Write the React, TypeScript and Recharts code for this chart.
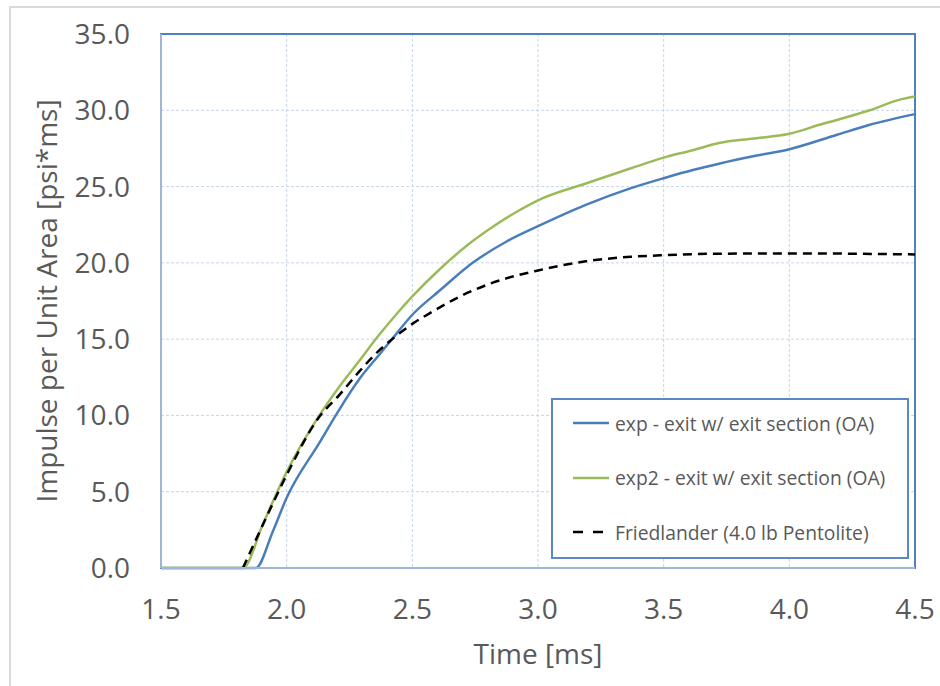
import React from 'react';
import {
  LineChart,
  Line,
  XAxis,
  YAxis,
  CartesianGrid,
  ReferenceArea,
  Label
} from 'recharts';

// time [ms] / impulse [psi*ms]
const expTime = [1.5, 1.877, 1.945, 2.0, 2.13, 2.21, 2.29, 2.364, 2.424, 2.5, 2.61, 2.74, 2.875, 3.0, 3.19, 3.37, 3.5, 3.62, 3.72, 3.86, 4.0, 4.19, 4.32, 4.5];
const expVals = [0, 0, 2.4, 4.6, 8.2, 10.4, 12.4, 13.9, 15.1, 16.6, 18.2, 20.0, 21.4, 22.4, 23.8, 24.9, 25.55, 26.1, 26.5, 27.0, 27.45, 28.4, 29.05, 29.75];

const exp2Time = [1.5, 1.826, 1.906, 2.0, 2.13, 2.21, 2.29, 2.364, 2.44, 2.5, 2.61, 2.73, 2.81, 2.9, 3.0, 3.19, 3.37, 3.5, 3.62, 3.72, 3.86, 4.0, 4.12, 4.32, 4.44, 4.5];
const exp2Vals = [0, 0, 2.9, 6.3, 10.0, 11.9, 13.6, 15.2, 16.7, 17.8, 19.6, 21.3, 22.25, 23.2, 24.1, 25.2, 26.2, 26.9, 27.4, 27.85, 28.15, 28.46, 29.05, 30.0, 30.7, 30.9];

const friedTime = [1.826, 1.91, 2.0, 2.125, 2.21, 2.29, 2.364, 2.42, 2.5, 2.58, 2.69, 2.82, 3.0, 3.19, 3.37, 3.5, 3.72, 4.0, 4.25, 4.5];
const friedVals = [0, 3.0, 6.1, 9.8, 11.35, 12.9, 14.2, 15.0, 16.0, 16.8, 17.8, 18.7, 19.5, 20.1, 20.4, 20.5, 20.6, 20.62, 20.6, 20.55];

const xTicks = [1.5, 2.0, 2.5, 3.0, 3.5, 4.0, 4.5];
const yTicks = [0, 5, 10, 15, 20, 25, 30, 35];

const series = [
  { name: 'exp - exit w/ exit section (OA)', color: '#4a7ebb', dash: undefined, time: expTime, vals: expVals },
  { name: 'exp2 - exit w/ exit section (OA)', color: '#9bbb59', dash: undefined, time: exp2Time, vals: exp2Vals },
  { name: 'Friedlander (4.0 lb Pentolite)', color: '#000000', dash: '9 6', time: friedTime, vals: friedVals },
];

const toRows = (time: number[], vals: number[]) => time.map((t, i) => ({ t, v: vals[i] }));

const font = '"Open Sans", sans-serif';
const textColor = '#595959';

const App: React.FC = () => {
  return (
    <div style={{ position: 'absolute', left: 0, top: 0, width: 940, height: 686, background: '#fff', fontFamily: font }}>
      <div style={{ position: 'absolute', left: 9, top: 6, right: 0, bottom: 0, borderLeft: '2px solid #d9d9d9', borderTop: '2px solid #d9d9d9' }} />
      <LineChart width={940} height={686} margin={{ top: 34, right: 25, bottom: 0, left: 0 }}>
        <CartesianGrid stroke="#c6d5ea" strokeDasharray="3 2" />
        <XAxis
          dataKey="t"
          type="number"
          domain={[1.5, 4.5]}
          ticks={xTicks}
          allowDuplicatedCategory={false}
          tickFormatter={(v: number) => v.toFixed(1)}
          tick={{ fill: textColor, fontSize: 28, fontFamily: font }}
          tickLine={false}
          tickSize={0}
          tickMargin={31}
          axisLine={{ stroke: '#9fb6d8', strokeWidth: 2 }}
          height={118}
        >
          <Label
            content={({ viewBox }: any) => (
              <text x={viewBox.x + viewBox.width / 2} y={viewBox.y + 96} textAnchor="middle" fill={textColor} fontSize={28} fontFamily={font}>
                Time [ms]
              </text>
            )}
          />
        </XAxis>
        <YAxis
          type="number"
          domain={[0, 35]}
          ticks={yTicks}
          tickFormatter={(v: number) => v.toFixed(1)}
          tick={{ fill: textColor, fontSize: 28, fontFamily: font }}
          tickLine={false}
          tickSize={0}
          tickMargin={31}
          axisLine={{ stroke: '#9fb6d8', strokeWidth: 2 }}
          width={161}
        >
          <Label
            content={({ viewBox }: any) => {
              const cx = viewBox.x + 57;
              const cy = viewBox.y + viewBox.height / 2;
              return (
                <text x={cx} y={cy} textAnchor="middle" fill={textColor} fontSize={28} fontFamily={font} transform={`rotate(-90 ${cx} ${cy})`}>
                  Impulse per Unit Area [psi*ms]
                </text>
              );
            }}
          />
        </YAxis>
        <ReferenceArea x1={1.5} x2={4.5} y1={0} y2={35} fill="none" stroke="#4f81bd" strokeWidth={2} ifOverflow="visible" />
        {series.map((s) => (
          <Line
            key={s.name}
            data={toRows(s.time, s.vals)}
            dataKey="v"
            name={s.name}
            type="monotone"
            stroke={s.color}
            strokeWidth={2.5}
            strokeDasharray={s.dash}
            dot={false}
            activeDot={false}
            isAnimationActive={false}
          />
        ))}
      </LineChart>
      <div
        style={{
          position: 'absolute',
          left: 551,
          top: 398,
          width: 354,
          height: 157,
          border: '2px solid #5b87c5',
          background: '#fff',
        }}
      >
        {series.map((s, i) => (
          <div key={s.name} style={{ position: 'absolute', left: 20, top: 9 + i * 54.5, height: 28, display: 'flex', alignItems: 'center' }}>
            <svg width={38} height={6} style={{ marginRight: 4 }}>
              <line x1={0} y1={3} x2={36} y2={3} stroke={s.color} strokeWidth={2.5} strokeDasharray={s.dash ? '10 10' : undefined} />
            </svg>
            <span style={{ fontSize: 19.3, color: textColor, whiteSpace: 'nowrap' }}>{s.name}</span>
          </div>
        ))}
      </div>
    </div>
  );
};

export default App;
